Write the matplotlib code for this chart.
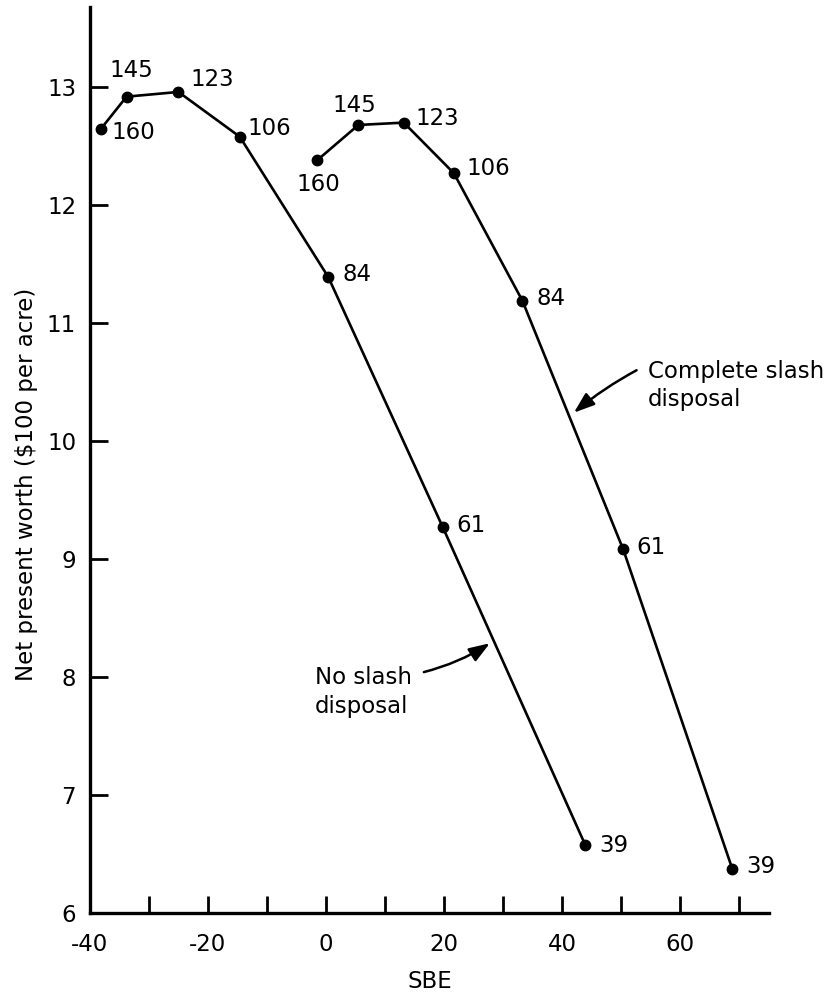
import matplotlib
matplotlib.use("Agg")
import matplotlib.pyplot as plt

plt.rcParams['font.family'] = ['DejaVu Sans']

# ---- data ----
point_labels = ['160', '145', '123', '106', '84', '61', '39']
sbe_no_slash = [-38.1, -33.8, -25.0, -14.6, 0.4, 19.8, 44.0]
npw_no_slash = [12.65, 12.92, 12.96, 12.58, 11.39, 9.27, 6.57]
sbe_complete = [-1.5, 5.5, 13.2, 21.7, 33.3, 50.4, 68.9]
npw_complete = [12.38, 12.68, 12.70, 12.27, 11.19, 9.08, 6.37]
xtick_vals = [-40, -20, 0, 20, 40, 60]
xminor_vals = [-30, -10, 10, 30, 50, 70]
ytick_vals = [6, 7, 8, 9, 10, 11, 12, 13]

# label offsets (pixels) and alignment
off_no = [(10, -4, 'left'), (-17, 26, 'left'), (12, 12, 'left'), (8, 8, 'left'),
          (14, 3, 'left'), (14, 2, 'left'), (14, 0, 'left')]
off_cs = [(1, -24, 'center'), (-4, 19, 'center'), (12, 4, 'left'), (12, 5, 'left'),
          (14, 2, 'left'), (13, 2, 'left'), (14, 3, 'left')]

fig = plt.figure(figsize=(8.27, 9.93), dpi=100)
ax = fig.add_axes([0.1088, 0.0809, 0.821, 0.912])

fs = 16.5
lw = 1.9
for xs, ys, offs in [(sbe_no_slash, npw_no_slash, off_no), (sbe_complete, npw_complete, off_cs)]:
    ax.plot(xs, ys, color='black', lw=lw, marker='o', ms=7.5, mfc='black', mec='black')
    for x, y, lab, (dx, dy, ha) in zip(xs, ys, point_labels, offs):
        ax.annotate(lab, (x, y), xytext=(dx, dy), textcoords='offset pixels',
                    ha=ha, va='center', fontsize=fs)

ax.set_xlim(-40, 75.1)
ax.set_ylim(6, 13.68)

for s in ['top', 'right']:
    ax.spines[s].set_visible(False)
for s in ['left', 'bottom']:
    ax.spines[s].set_linewidth(2.4)

ax.set_xticks(xtick_vals)
ax.set_xticklabels([str(v) for v in xtick_vals])
ax.set_xticks(xminor_vals, minor=True)
ax.set_yticks(ytick_vals)
ax.set_yticklabels([str(v) for v in ytick_vals])
ax.tick_params(axis='x', which='both', direction='in', length=12, width=2, labelsize=fs, pad=15)
ax.tick_params(axis='y', which='both', direction='in', length=13, width=2, labelsize=fs, pad=10)

ax.set_xlabel('SBE', fontsize=fs, labelpad=10)
ax.set_ylabel('Net present worth ($100 per acre)', fontsize=fs, labelpad=12)
ax.yaxis.set_label_coords(-0.077, 0.473)

# annotations
ax.text(54.6, 10.69, 'Complete slash\ndisposal', fontsize=fs, ha='left', va='top', linespacing=1.3)
ax.annotate('', xy=(42.03, 10.24), xytext=(52.66, 10.60),
            arrowprops=dict(arrowstyle='-|>,head_length=0.7,head_width=0.25', color='black',
                            lw=1.8, shrinkA=0, shrinkB=0, connectionstyle='arc3,rad=0.05', mutation_scale=18))
ax.text(-1.86, 8.09, 'No slash\ndisposal', fontsize=fs, ha='left', va='top', linespacing=1.3)
ax.annotate('', xy=(27.8, 8.285), xytext=(16.6, 8.04),
            arrowprops=dict(arrowstyle='-|>,head_length=0.7,head_width=0.25', color='black',
                            lw=1.8, shrinkA=0, shrinkB=0, connectionstyle='arc3,rad=0.08', mutation_scale=18))

fig.savefig('out.png', dpi=100)
